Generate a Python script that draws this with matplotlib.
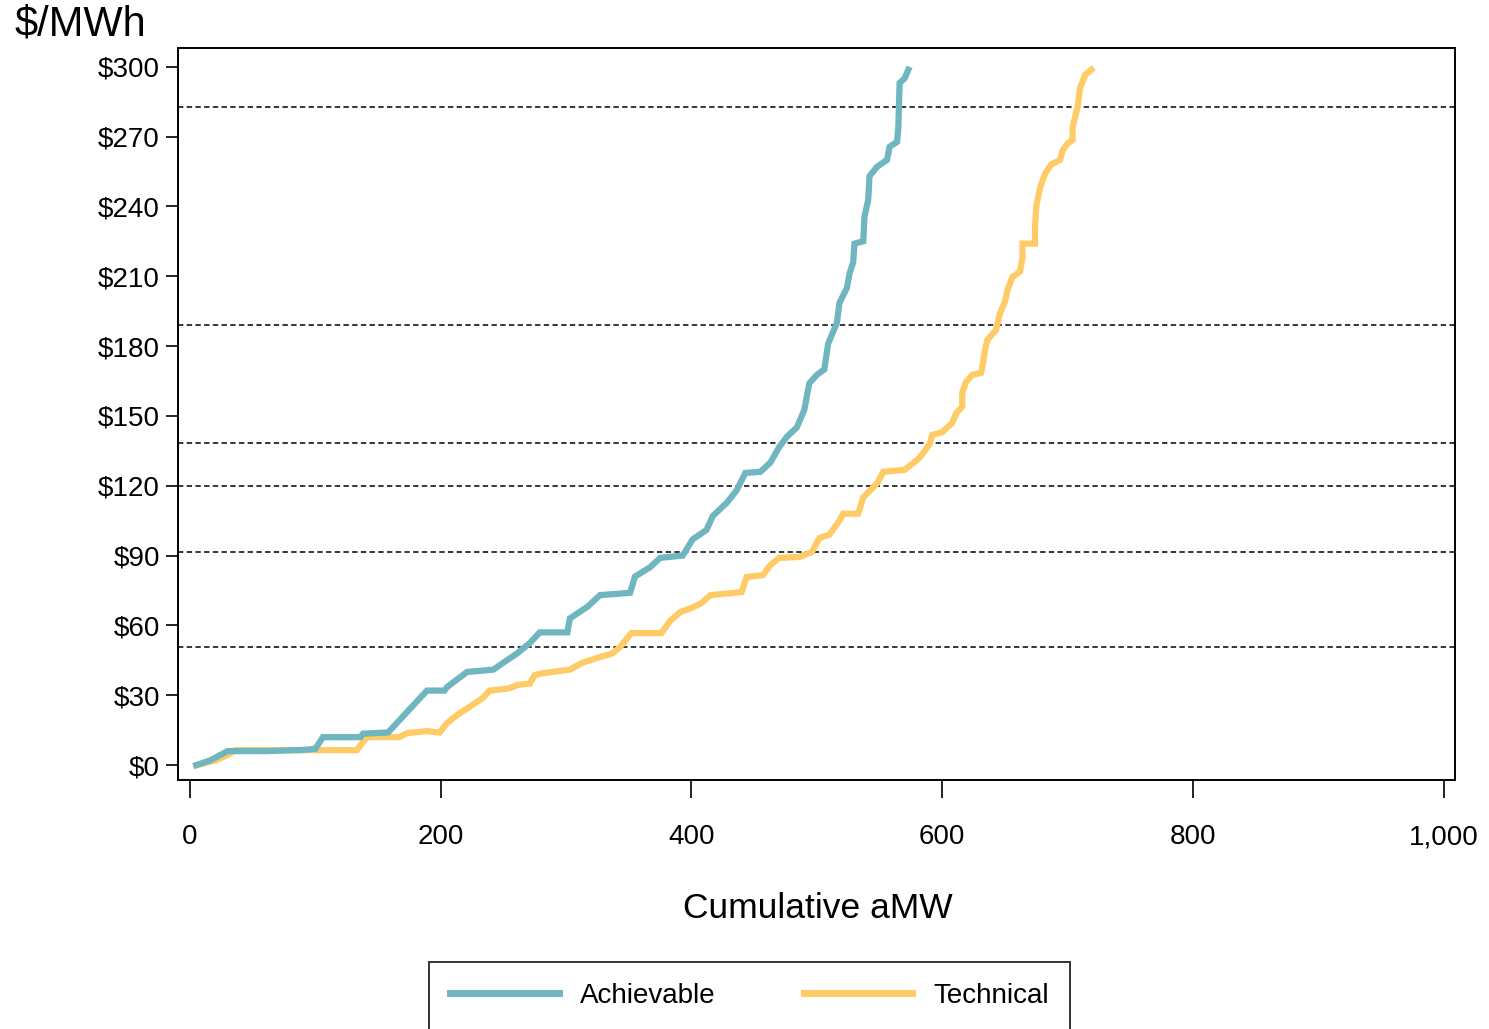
import matplotlib
matplotlib.use('Agg')
import matplotlib.pyplot as plt
from matplotlib.ticker import FuncFormatter

plt.rcParams['font.family'] = ['Liberation Sans', 'DejaVu Sans']

# cumulative aMW and price ($/MWh)
ach_x = [5, 16, 30, 60, 90, 100, 106, 136, 138, 158, 189, 203, 205, 221, 242, 250, 261, 271,
         279, 301, 303, 317, 327, 351, 355, 367, 375, 393, 401, 412, 417, 428, 436, 443, 455,
         463, 470, 476, 484, 490, 494, 500, 506, 509, 516, 518, 524, 526, 529, 530, 537, 538,
         541, 542, 548, 556, 558, 564, 565, 566, 570, 573]
ach_y = [0, 2, 6, 6, 6.5, 7, 12, 12, 13.5, 14, 32, 32, 33.5, 40, 41, 44, 48, 52.4,
         57, 57, 63, 68, 73, 74, 81, 85, 89, 90, 97, 101, 107, 112.6, 118, 125.5, 126,
         130, 136.6, 141, 145, 152.6, 164, 167.6, 170, 181, 190, 198.5, 205, 211, 216, 224, 225, 235.5,
         243, 253, 257, 260, 265.6, 267.7, 274, 293, 295, 298.7]

tech_x = [6, 20, 30, 36, 133, 141, 167, 173, 189, 199, 205, 213, 223, 234, 239, 255, 261, 271,
          275, 282, 303, 313, 319, 327, 337, 343, 352, 376, 383, 391, 400, 408, 415, 440, 444,
          457, 463, 470, 486, 496, 502, 510, 518, 521, 533, 537, 548, 553, 570, 582, 590, 592,
          600, 608, 611, 616, 616, 619, 624, 631, 632, 634, 636, 643, 646, 650, 652, 656, 662,
          664, 664, 674, 674, 675, 678, 682, 687, 694, 696, 700, 704, 704, 708, 710, 714, 719]
tech_y = [0, 2, 4.3, 6.4, 6.4, 12, 12, 13.7, 14.6, 14, 18, 21.5, 25, 29, 32, 33, 34.4, 35,
          38.7, 39.5, 41, 44, 45, 46.4, 48, 50.7, 56.7, 56.7, 62, 65.7, 67.5, 69.6, 73, 74.3, 80.8,
          81.6, 86, 89, 89.4, 91.5, 97.5, 99, 105, 108, 108, 115, 121, 126, 126.8, 132, 138, 141.8,
          143, 147, 151, 154, 160, 164.6, 167.6, 168.5, 171, 178, 182.6, 187, 194, 199, 204, 209.7, 212,
          218, 224, 224, 231, 240, 248, 254, 258, 260, 264, 267, 268.6, 274, 282.8, 291, 296.5, 298.7]

ref_prices = [282.8, 189.1, 138.4, 119.9, 91.5, 50.7]

yticks = list(range(0, 301, 30))
xticks = [0, 200, 400, 600, 800, 1000]

fig = plt.figure(figsize=(14.89, 10.29), dpi=100)
ax = fig.add_axes([0.1195, 0.242, 0.8575, 0.7115])

for p in ref_prices:
    ax.axhline(p, color='black', lw=1.1, ls=(0, (3.5, 2.2)), zorder=1)

ax.plot(ach_x, ach_y, color='#6fb6c1', lw=4.5, label='Achievable', zorder=3,
        solid_joinstyle='miter')
ax.plot(tech_x, tech_y, color='#ffcb66', lw=4.5, label='Technical', zorder=2,
        solid_joinstyle='miter')

ax.set_xlim(-9.6, 1008.8)
ax.set_ylim(-6.4, 308.1)
ax.set_xticks(xticks)
ax.set_yticks(yticks)
ax.xaxis.set_major_formatter(FuncFormatter(lambda v, p: f'{v:,.0f}'))
ax.yaxis.set_major_formatter(FuncFormatter(lambda v, p: f'${v:.0f}'))
ax.tick_params(axis='x', length=13, width=1.2, pad=19, labelsize=20)
ax.tick_params(axis='y', length=9, width=1.2, pad=4, labelsize=20)
for s in ax.spines.values():
    s.set_linewidth(1.4)

ax.set_xlabel('Cumulative aMW', fontsize=25.5, va='center')
ax.xaxis.set_label_coords(0.501, -0.175)
fig.text(15 / 1489, 1 - 25 / 1029, '$/MWh', fontsize=30, ha='left', va='center')

leg = fig.legend(loc='upper center', bbox_to_anchor=(0.5034, 1 - 962 / 1029), ncol=2,
                 fontsize=20, handlelength=3.9, handletextpad=0.75, columnspacing=3.2,
                 borderpad=0.75, borderaxespad=0, frameon=True, fancybox=False,
                 edgecolor='black')
leg.get_frame().set_linewidth(1.4)
for ln in leg.get_lines():
    ln.set_linewidth(5)

fig.savefig('out.png', dpi=100)
